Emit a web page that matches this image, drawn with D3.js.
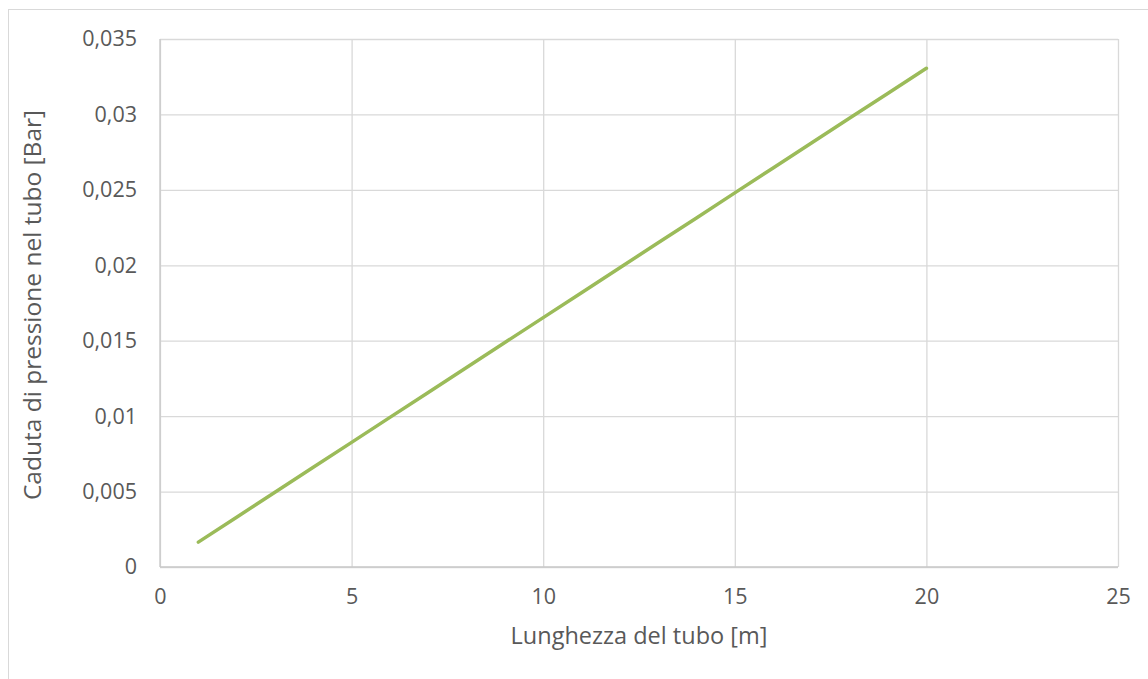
<!DOCTYPE html>
<html>
<head>
<meta charset="utf-8">
<script src="https://cdn.jsdelivr.net/npm/d3@7"></script>
<style>
  html, body { margin: 0; padding: 0; background: #fff; }
  svg { display: block; }
  text { font-family: "Open Sans", "Liberation Sans", sans-serif; fill: #595959; }
</style>
</head>
<body>
<svg id="chart" width="1148" height="679"></svg>
<script>
// Pressure drop along the pipe
const lengths = [1, 2, 3, 4, 5, 6, 7, 8, 9, 10, 11, 12, 13, 14, 15, 16, 17, 18, 19, 20];
const pressureDrop = [0.00165, 0.0033, 0.00496, 0.00661, 0.00826, 0.00992, 0.01157, 0.01322, 0.01488, 0.01653,
                      0.01818, 0.01984, 0.02149, 0.02314, 0.0248, 0.02645, 0.0281, 0.02976, 0.03141, 0.03306];
const xTicks = [0, 5, 10, 15, 20, 25];
const yTicks = [0, 0.005, 0.01, 0.015, 0.02, 0.025, 0.03, 0.035];
const xTitle = "Lunghezza del tubo [m]";
const yTitle = "Caduta di pressione nel tubo [Bar]";

const svg = d3.select("#chart");
const plot = { left: 160, right: 1118, top: 39, bottom: 567 };

const x = d3.scaleLinear().domain([0, 25]).range([plot.left, plot.right]);
const y = d3.scaleLinear().domain([0, 0.035]).range([plot.bottom, plot.top]);

const fmt = v => String(+v.toFixed(3)).replace(".", ",");

// Outer chart frame
svg.append("rect")
  .attr("x", 8.5).attr("y", 9.5)
  .attr("width", 1200).attr("height", 720)
  .attr("fill", "none").attr("stroke", "#d9d9d9").attr("stroke-width", 1);

// Horizontal gridlines and y tick labels
const yAxis = d3.axisLeft(y).tickValues(yTicks).tickFormat(fmt)
  .tickSize(-(plot.right - plot.left)).tickPadding(23);
const gy = svg.append("g").attr("transform", `translate(${plot.left},0)`).call(yAxis);
gy.select(".domain").remove();
gy.selectAll(".tick line").attr("stroke", "#d9d9d9").attr("stroke-width", 1.3);
gy.selectAll(".tick text").attr("font-size", 21.5).attr("fill", "#595959")
  .style("font-family", "'Open Sans', sans-serif");

// Vertical gridlines and x tick labels
const xAxis = d3.axisBottom(x).tickValues(xTicks).tickFormat(d => d)
  .tickSize(-(plot.bottom - plot.top)).tickPadding(22);
const gx = svg.append("g").attr("transform", `translate(0,${plot.bottom})`).call(xAxis);
gx.select(".domain").remove();
gx.selectAll(".tick line").attr("stroke", "#d9d9d9").attr("stroke-width", 1.3);
gx.selectAll(".tick text").attr("font-size", 21.5).attr("fill", "#595959")
  .style("font-family", "'Open Sans', sans-serif");

// Axis lines (left and bottom) slightly darker
svg.append("line").attr("x1", plot.left).attr("x2", plot.left)
  .attr("y1", plot.top).attr("y2", plot.bottom)
  .attr("stroke", "#c8c8c8").attr("stroke-width", 1.3);
svg.append("line").attr("x1", plot.left).attr("x2", plot.right)
  .attr("y1", plot.bottom).attr("y2", plot.bottom)
  .attr("stroke", "#c8c8c8").attr("stroke-width", 1.3);

// Data line
const line = d3.line().x((d, i) => x(lengths[i])).y(d => y(d));
svg.append("path")
  .datum(pressureDrop)
  .attr("d", line)
  .attr("fill", "none")
  .attr("stroke", "#9bbb59")
  .attr("stroke-width", 3.5)
  .attr("stroke-linecap", "round")
  .attr("stroke-linejoin", "round");

// Axis titles
svg.append("text")
  .attr("x", (plot.left + plot.right) / 2).attr("y", 644)
  .attr("text-anchor", "middle").attr("font-size", 23.5)
  .text(xTitle);

svg.append("text")
  .attr("transform", `translate(41,${(plot.top + plot.bottom) / 2 + 2}) rotate(-90)`)
  .attr("text-anchor", "middle").attr("font-size", 24.5)
  .text(yTitle);
</script>
</body>
</html>
